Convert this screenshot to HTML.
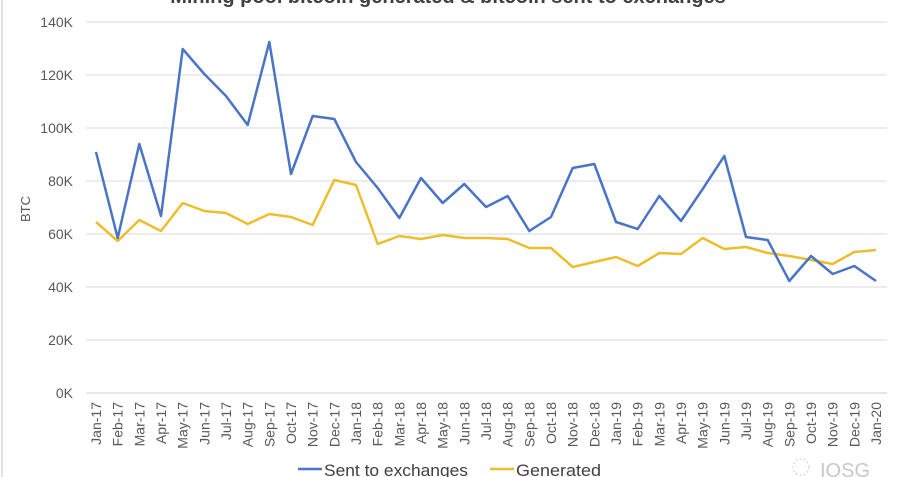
<!DOCTYPE html>
<html><head><meta charset="utf-8"><style>
html,body{margin:0;padding:0;background:#fff;}
svg{display:block;font-family:"Liberation Sans",Arial,sans-serif;}
</style></head><body>
<svg width="897" height="477" viewBox="0 0 897 477" xmlns="http://www.w3.org/2000/svg">
<rect x="0" y="0" width="897" height="477" fill="#fff"/>
<line x1="2" y1="0" x2="2" y2="477" stroke="#d6d6d6" stroke-width="1.5"/>
<text x="448" y="3" text-anchor="middle" font-size="20" font-weight="bold" fill="#404040">Mining pool bitcoin generated &amp; bitcoin sent to exchanges</text>
<g stroke="#d9d9d9" stroke-width="1">
<line x1="86" y1="22" x2="887" y2="22"/>
<line x1="86" y1="75" x2="887" y2="75"/>
<line x1="86" y1="128" x2="887" y2="128"/>
<line x1="86" y1="181" x2="887" y2="181"/>
<line x1="86" y1="234" x2="887" y2="234"/>
<line x1="86" y1="287" x2="887" y2="287"/>
<line x1="86" y1="340" x2="887" y2="340"/>
</g>
<line x1="86" y1="393" x2="887" y2="393" stroke="#cfcfcf" stroke-width="1"/>
<g font-size="14" fill="#595959" text-anchor="end">
<text x="73" y="27">140K</text><text x="73" y="80">120K</text><text x="73" y="133">100K</text>
<text x="73" y="186">80K</text><text x="73" y="239">60K</text><text x="73" y="292">40K</text>
<text x="73" y="345">20K</text><text x="73" y="398">0K</text>
</g>
<text transform="translate(30,209) rotate(-90)" text-anchor="middle" font-size="13" fill="#595959">BTC</text>
<g font-size="14" fill="#595959" text-anchor="end">
<text transform="translate(101,402) rotate(-90)">Jan-17</text>
<text transform="translate(122.7,402) rotate(-90)">Feb-17</text>
<text transform="translate(144.3,402) rotate(-90)">Mar-17</text>
<text transform="translate(166,402) rotate(-90)">Apr-17</text>
<text transform="translate(187.7,402) rotate(-90)">May-17</text>
<text transform="translate(209.3,402) rotate(-90)">Jun-17</text>
<text transform="translate(231,402) rotate(-90)">Jul-17</text>
<text transform="translate(252.7,402) rotate(-90)">Aug-17</text>
<text transform="translate(274.3,402) rotate(-90)">Sep-17</text>
<text transform="translate(296,402) rotate(-90)">Oct-17</text>
<text transform="translate(317.7,402) rotate(-90)">Nov-17</text>
<text transform="translate(339.3,402) rotate(-90)">Dec-17</text>
<text transform="translate(361,402) rotate(-90)">Jan-18</text>
<text transform="translate(382.7,402) rotate(-90)">Feb-18</text>
<text transform="translate(404.3,402) rotate(-90)">Mar-18</text>
<text transform="translate(426,402) rotate(-90)">Apr-18</text>
<text transform="translate(447.7,402) rotate(-90)">May-18</text>
<text transform="translate(469.3,402) rotate(-90)">Jun-18</text>
<text transform="translate(491,402) rotate(-90)">Jul-18</text>
<text transform="translate(512.7,402) rotate(-90)">Aug-18</text>
<text transform="translate(534.3,402) rotate(-90)">Sep-18</text>
<text transform="translate(556,402) rotate(-90)">Oct-18</text>
<text transform="translate(577.7,402) rotate(-90)">Nov-18</text>
<text transform="translate(599.3,402) rotate(-90)">Dec-18</text>
<text transform="translate(621,402) rotate(-90)">Jan-19</text>
<text transform="translate(642.7,402) rotate(-90)">Feb-19</text>
<text transform="translate(664.3,402) rotate(-90)">Mar-19</text>
<text transform="translate(686,402) rotate(-90)">Apr-19</text>
<text transform="translate(707.7,402) rotate(-90)">May-19</text>
<text transform="translate(729.3,402) rotate(-90)">Jun-19</text>
<text transform="translate(751,402) rotate(-90)">Jul-19</text>
<text transform="translate(772.7,402) rotate(-90)">Aug-19</text>
<text transform="translate(794.3,402) rotate(-90)">Sep-19</text>
<text transform="translate(816,402) rotate(-90)">Oct-19</text>
<text transform="translate(837.7,402) rotate(-90)">Nov-19</text>
<text transform="translate(859.3,402) rotate(-90)">Dec-19</text>
<text transform="translate(881,402) rotate(-90)">Jan-20</text>
</g>
<polyline fill="none" stroke="#EDBD2E" stroke-width="2.5" stroke-linejoin="round" points="96,222 117.7,241 139.3,220 161,231 182.7,203 204.3,211 226,213 247.7,224 269.3,214 291,217 312.7,225 334.3,180 356,185 377.7,244 399.3,236 421,239 442.7,235 464.3,238 486,238 507.7,239 529.3,248 551,248 572.7,267 594.3,262 616,257 637.7,266 659.3,253 681,254 702.7,238 724.3,249 746,247 767.7,253 789.3,256 811,260 832.7,264 854.3,252 876,250"/>
<polyline fill="none" stroke="#4A74C6" stroke-width="2.5" stroke-linejoin="round" points="96,152 117.7,238 139.3,144 161,216 182.7,49 204.3,74 226,96 247.7,125 269.3,42 291,174 312.7,116 334.3,119 356,162 377.7,188 399.3,218 421,178 442.7,203 464.3,184 486,207 507.7,196 529.3,231 551,217 572.7,168 594.3,164 616,222 637.7,229 659.3,196 681,221 702.7,189 724.3,156 746,237 767.7,240 789.3,281 811,256 832.7,274 854.3,266 876,281"/>
<line x1="298" y1="469" x2="322" y2="469" stroke="#4A74C6" stroke-width="2.5"/>
<text x="324" y="476" font-size="17" fill="#404040" textLength="144" lengthAdjust="spacingAndGlyphs">Sent to exchanges</text>
<line x1="490" y1="469" x2="514" y2="469" stroke="#EDBD2E" stroke-width="2.5"/>
<text x="516" y="476" font-size="17" fill="#404040" textLength="85" lengthAdjust="spacingAndGlyphs">Generated</text>
<circle cx="801" cy="467" r="8" fill="none" stroke="#cfcfcf" stroke-width="1" stroke-dasharray="2,2"/>
<text x="820" y="477" font-size="20" fill="#c8c8c8">IOSG</text>
</svg>
</body></html>
